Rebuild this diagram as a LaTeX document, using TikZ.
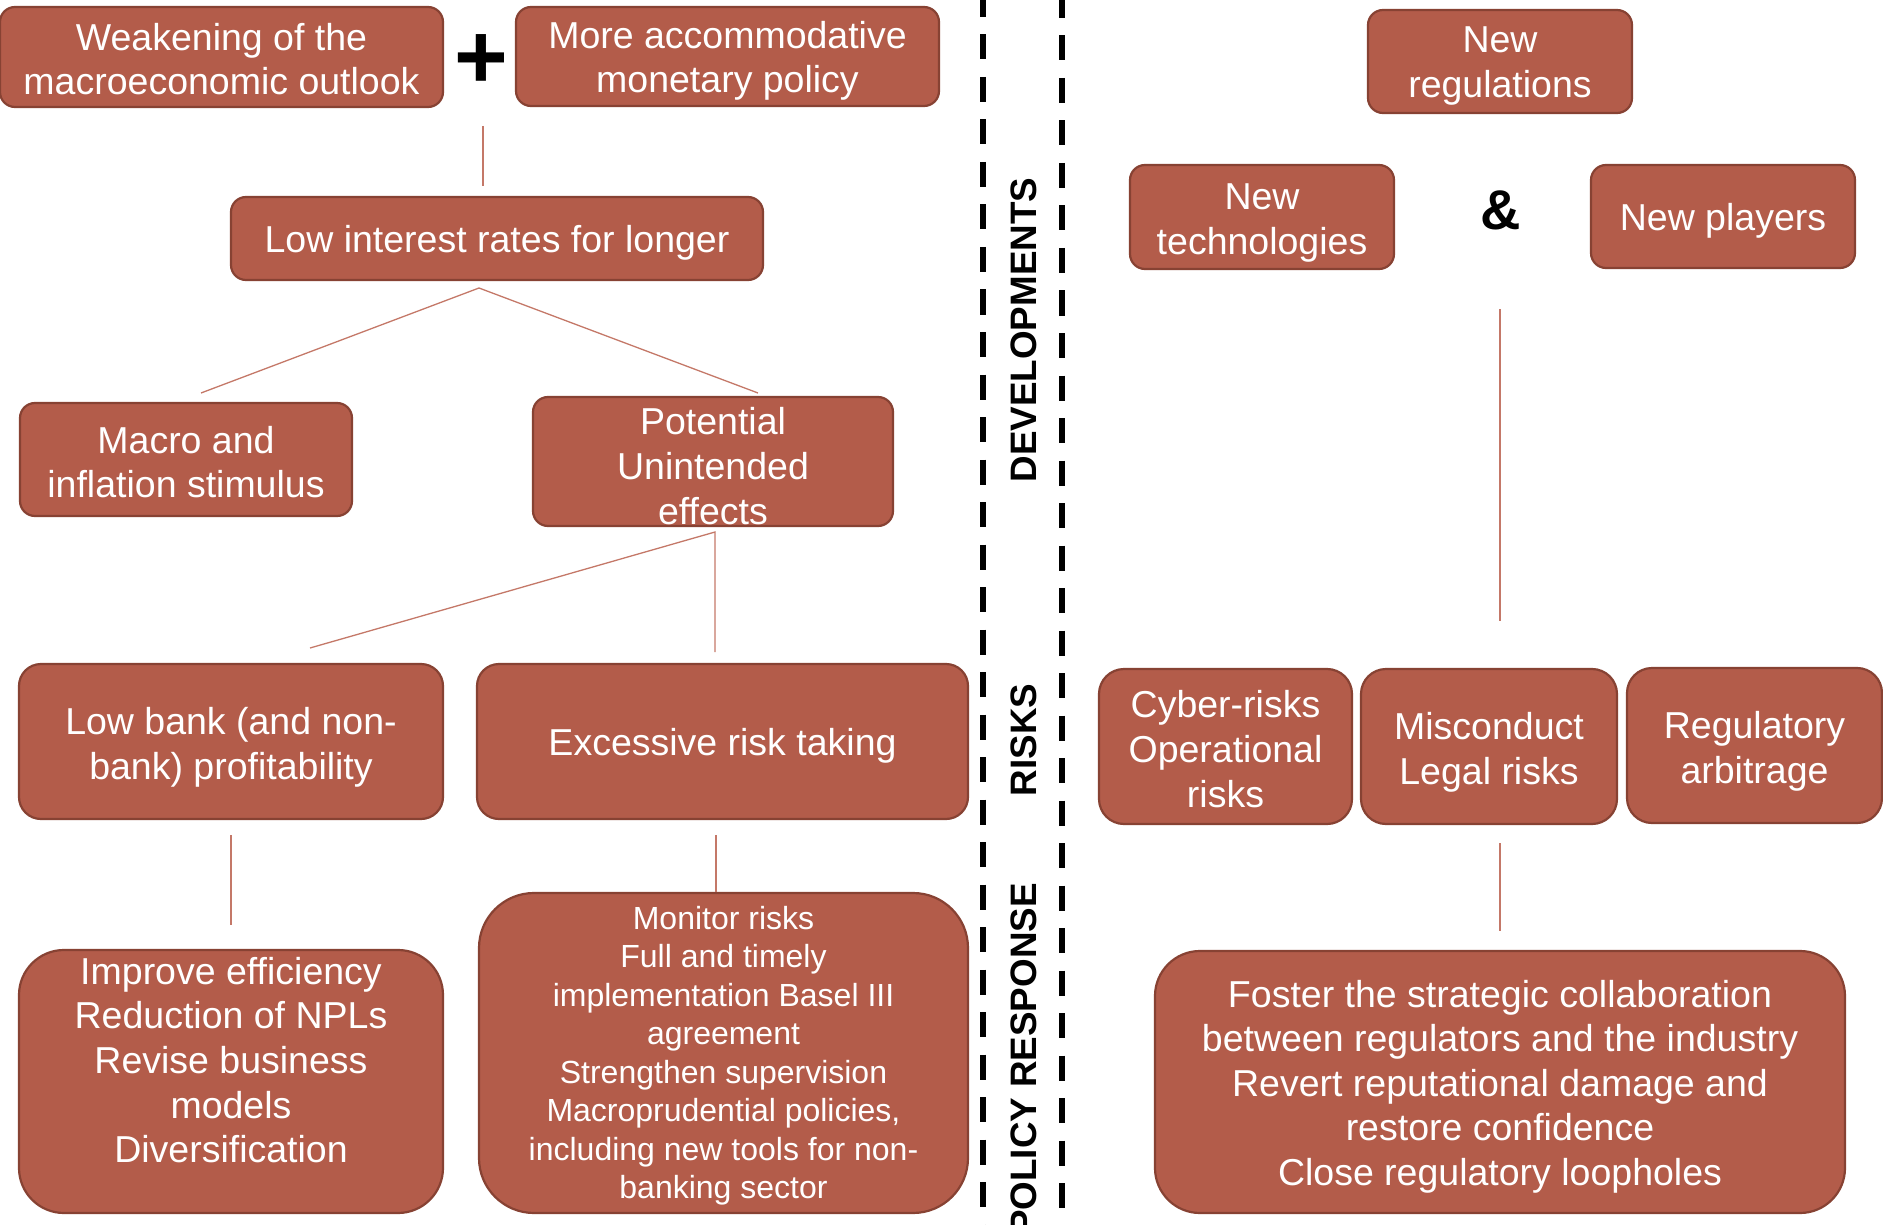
\documentclass[tikz,border=0pt]{standalone}
\usepackage{fontspec}
\setmainfont{Liberation Sans}
\definecolor{boxfill}{RGB}{179,92,74}
\definecolor{boxborder}{RGB}{135,66,51}
\definecolor{linkcol}{RGB}{196,120,104}
\begin{document}
\begin{tikzpicture}[x=1pt,y=-1pt,
  box/.style={draw=boxborder, fill=boxfill, line width=2.2pt, rounded corners=#1, inner sep=0pt},
  box/.default=15pt,
  boxtext/.style={text=white, align=center, inner sep=0pt, yshift=-4.5pt, font=\fontsize{37.5}{44.6}\selectfont},
  smalltext/.style={font=\fontsize{32}{38.5}\selectfont},
  link/.style={draw=linkcol, line width=1.3pt},
  sep/.style={draw=black, line width=6pt, dash pattern=on 25pt off 17.5pt},
  sectlabel/.style={rotate=90, font=\fontsize{36.8}{40}\selectfont\bfseries, inner sep=0pt},
  sym/.style={inner sep=0pt}
]
\useasboundingbox (0,0) rectangle (1883,1225);
\clip (0,0) rectangle (1883,1225);

% separators
\coordinate (s1t) at (983,0);  \coordinate (s1b) at (983,1230);
\coordinate (s2t) at (1062,0); \coordinate (s2b) at (1062,1230);
\draw[sep, dash phase=8pt] (s1t) -- (s1b);
\draw[sep, dash phase=7pt] (s2t) -- (s2b);

\node[sectlabel] (lblDev) at (1024,330) {DEVELOPMENTS};
\node[sectlabel] (lblRisk) at (1024,740) {RISKS};
\node[sectlabel] (lblPol) at (1024,1059) {POLICY RESPONSE};

% left side boxes
\node[box, minimum width=443pt, minimum height=100pt] (A) at (221.5,57) {};
\node[boxtext, yshift=2.5pt] (At) at (A.center) {Weakening of the\\macroeconomic outlook};
\node[sym, font=\fontsize{92}{92}\selectfont\bfseries] (plus) at (481,62) {+};
\node[box, minimum width=423pt, minimum height=99pt] (B) at (727.5,56.5) {};
\node[boxtext] (Bt) at (B.center) {More accommodative\\monetary policy};
\node[box, minimum width=532pt, minimum height=83pt] (C) at (497,238.5) {};
\node[boxtext] (Ct) at (C.center) {Low interest rates for longer};
\node[box, minimum width=332pt, minimum height=113pt] (D) at (186,459.5) {};
\node[boxtext, yshift=2pt] (Dt) at (D.center) {Macro and\\inflation stimulus};
\node[box, minimum width=360pt, minimum height=129pt] (E) at (713,461.5) {};
\node[boxtext] (Et) at (E.center) {Potential\\Unintended\\effects};
\node[box=22pt, minimum width=424pt, minimum height=155pt] (F) at (231,741.5) {};
\node[boxtext, yshift=-1.5pt] (Ft) at (F.center) {Low bank (and non-\\bank) profitability};
\node[box=22pt, minimum width=491pt, minimum height=155pt] (G) at (722.5,741.5) {};
\node[boxtext] (Gt) at (G.center) {Excessive risk taking};
\node[box=45pt, minimum width=424pt, minimum height=263pt] (H) at (231,1081.5) {};
\node[boxtext, yshift=4.5pt] (Ht) at (231,1060) {Improve efficiency\\Reduction of NPLs\\Revise business\\models\\Diversification};
\node[box=55pt, minimum width=489pt, minimum height=320pt] (I) at (723.5,1053) {};
\node[boxtext, smalltext, yshift=2pt] (It) at (I.center) {Monitor risks\\Full and timely\\implementation Basel III\\agreement\\Strengthen supervision\\Macroprudential policies,\\including new tools for non-\\banking sector};

% right side boxes
\node[box, minimum width=264pt, minimum height=103pt] (J) at (1500,61.5) {};
\node[boxtext] (Jt) at (J.center) {New\\regulations};
\node[box, minimum width=264pt, minimum height=104pt] (K) at (1262,217) {};
\node[boxtext, yshift=-1.5pt] (Kt) at (K.center) {New\\technologies};
\node[sym, font=\fontsize{56}{56}\selectfont\bfseries] (amp) at (1501,210) {\&};
\node[box, minimum width=264pt, minimum height=103pt] (L) at (1723,216.5) {};
\node[boxtext] (Lt) at (L.center) {New players};
\node[box=25pt, minimum width=253pt, minimum height=155pt] (M) at (1225.5,746.5) {};
\node[boxtext, yshift=2pt] (Mt) at (M.center) {Cyber-risks\\Operational\\risks};
\node[box=25pt, minimum width=256pt, minimum height=155pt] (N) at (1489,746.5) {};
\node[boxtext, yshift=-1.5pt] (Nt) at (N.center) {Misconduct\\Legal risks};
\node[box=25pt, minimum width=255pt, minimum height=155pt] (O) at (1754.5,745.5) {};
\node[boxtext, yshift=-1.5pt] (Ot) at (O.center) {Regulatory\\arbitrage};
\node[box=45pt, minimum width=690pt, minimum height=262pt] (P) at (1500,1082) {};
\node[boxtext] (Pt) at (P.center) {Foster the strategic collaboration\\between regulators and the industry\\Revert reputational damage and\\restore confidence\\Close regulatory loopholes};

% connectors
\coordinate (c1a) at (483,126); \coordinate (c1b) at (483,186);
\draw[link] (c1a) -- (c1b);
\coordinate (ap1) at (479,288); \coordinate (ap1l) at (201,393); \coordinate (ap1r) at (758,393);
\draw[link] (ap1l) -- (ap1) -- (ap1r);
\coordinate (ap2) at (715,532); \coordinate (ap2l) at (310,648); \coordinate (ap2d) at (715,652);
\draw[link] (ap2l) -- (ap2) -- (ap2d);
\coordinate (c4a) at (231,835); \coordinate (c4b) at (231,925);
\draw[link] (c4a) -- (c4b);
\coordinate (c5a) at (716,835);
\draw[link] (c5a) -- (c5a |- I.north);
\coordinate (c6a) at (1500,309); \coordinate (c6b) at (1500,621);
\draw[link] (c6a) -- (c6b);
\coordinate (c7a) at (1500,843); \coordinate (c7b) at (1500,931);
\draw[link] (c7a) -- (c7b);
\end{tikzpicture}
\end{document}
